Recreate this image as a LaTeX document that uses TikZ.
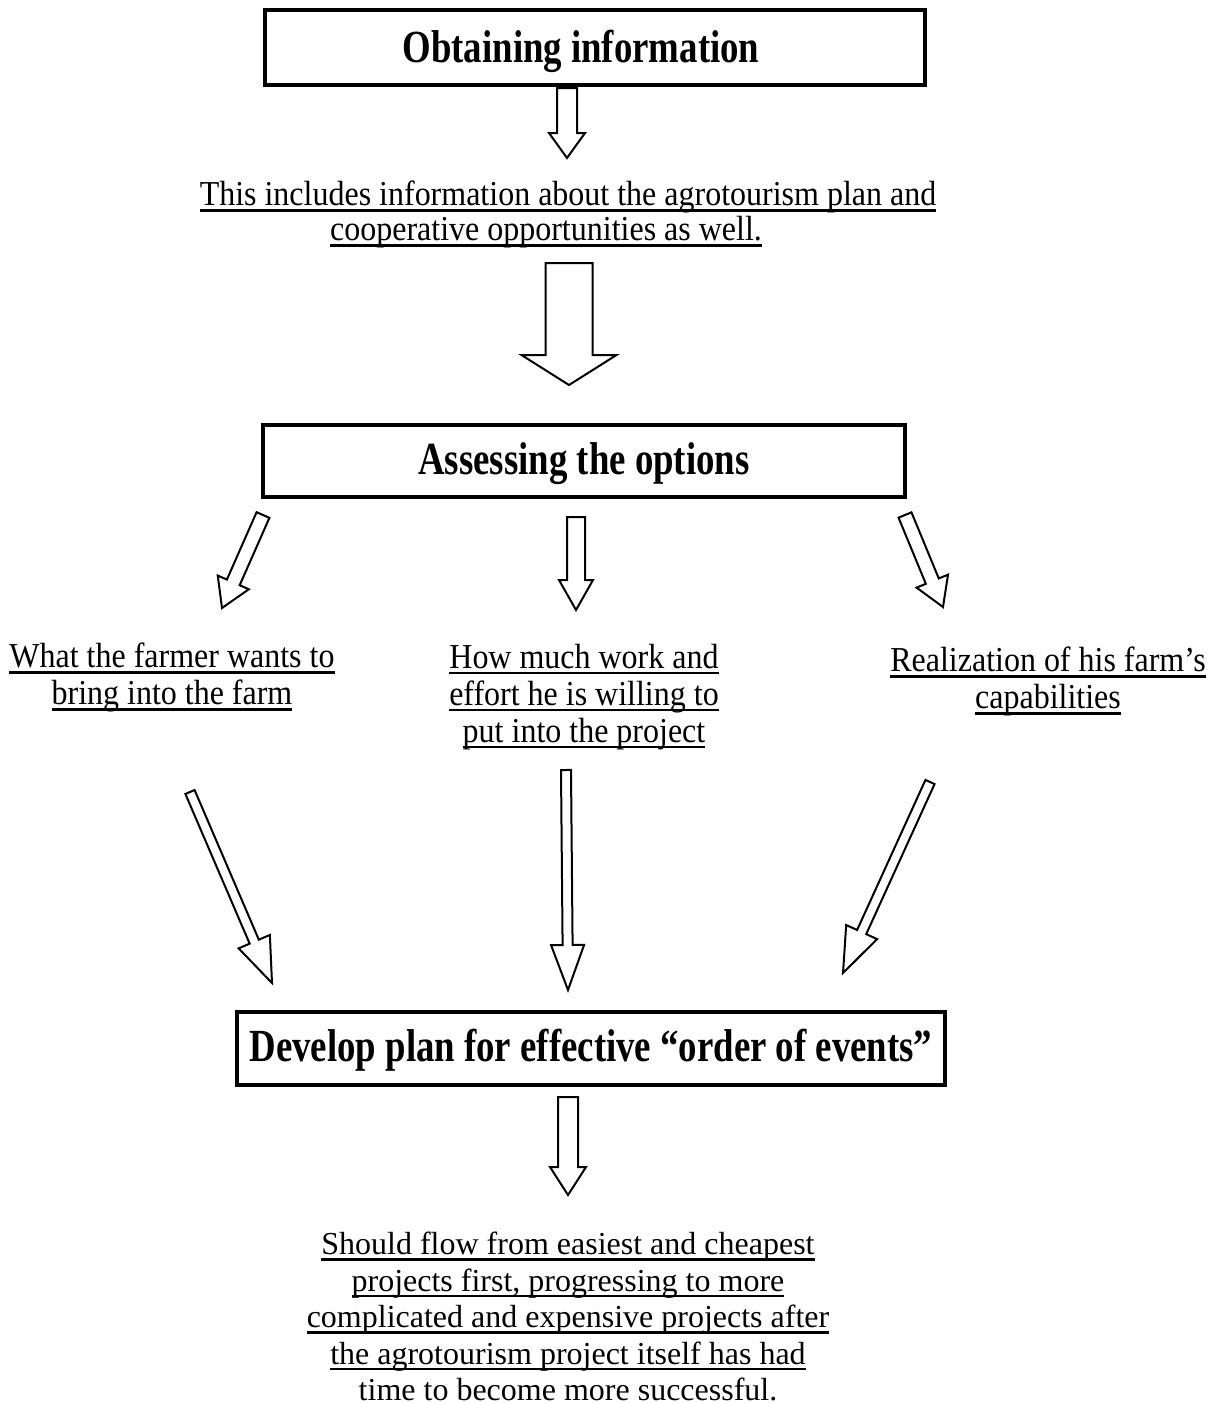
\documentclass[tikz,border=0pt]{standalone}
\usepackage{fontspec}
\setmainfont{Liberation Serif}
\newfontfamily\upperf[FakeStretch=0.914]{Liberation Serif}
\newfontfamily\titlef[FakeStretch=0.8]{Liberation Serif}
\newcommand\uln[1]{\setbox0\hbox{#1}\rlap{\vrule height -3.4pt depth 6pt width \wd0}\box0}
\usetikzlibrary{calc}
\tikzset{
  titlebox/.style={draw, line width=4.5pt, inner sep=0pt, fill=white,
    font=\titlef\bfseries\fontsize{46}{50}\selectfont},
  uppertext/.style={inner sep=0pt, align=center, anchor=north},
  blockarrow/.style={draw, line width=2pt, line join=miter, fill=white},
}
\newcommand\blockarr[5]{%
  \coordinate (#1-h) at ($(#2)!#5!(#1)$);
  \draw[blockarrow] ($(#1)!#3!90:(#2)$) -- ($(#1-h)!#3!90:(#2)$) -- ($(#1-h)!#4!90:(#2)$) -- (#2)
    -- ($(#1-h)!#4!-90:(#2)$) -- ($(#1-h)!#3!-90:(#2)$) -- ($(#1)!#3!-90:(#2)$) -- cycle;}
\begin{document}
\begin{tikzpicture}[x=1pt,y=-1pt]
\fill[white] (0,0) rectangle (1218,1403);
\useasboundingbox (0,0) rectangle (1218,1403);

% boxes
\node[titlebox, minimum width=660pt, minimum height=75pt] (b1) at (595,47.5) {\raisebox{-4pt}[32pt][10pt]{Obtaining information}\hspace*{28pt}};
\node[titlebox, minimum width=642pt, minimum height=72pt] (b2) at (584,461) {\raisebox{-2pt}[32pt][10pt]{Assessing the options}};
\node[titlebox, minimum width=708pt, minimum height=73pt] (b3) at (591,1048.5) {\raisebox{-2pt}[32pt][10pt]{Develop plan for effective “order of events”}};

% texts
\node[uppertext, font=\upperf\fontsize{35}{35}\selectfont] (t1) at (568,181)
  {\uln{This includes information about the agrotourism plan and}\\\uln{cooperative opportunities as well.}\hspace*{44pt}};
\node[uppertext, font=\upperf\fontsize{35}{37}\selectfont] (tl) at (172,643)
  {\uln{What the farmer wants to}\\\uln{bring into the farm}};
\node[uppertext, font=\upperf\fontsize{35}{37}\selectfont] (tm) at (584,644)
  {\uln{How much work and}\\\uln{effort he is willing to}\\\uln{put into the project}};
\node[uppertext, font=\upperf\fontsize{35}{37}\selectfont] (tr) at (1048,647)
  {\uln{Realization of his farm’s}\\\uln{capabilities}};
\node[uppertext, font=\fontsize{32}{36.5}\selectfont] (tb) at (568,1232)
  {\uln{Should flow from easiest and cheapest}\\\uln{projects first, progressing to more}\\\uln{complicated and expensive projects after}\\\uln{the agrotourism project itself has had}\\time to become more successful.};

% arrows
\coordinate (a1s) at (567,88);   \coordinate (a1t) at (567,158);
\coordinate (a2s) at (569,263);  \coordinate (a2t) at (569,385);
\coordinate (a3s) at (263,515);  \coordinate (a3t) at (222,608);
\coordinate (a4s) at (576,517);  \coordinate (a4t) at (576,610);
\coordinate (a5s) at (905,515);  \coordinate (a5t) at (943,607);
\coordinate (a6s) at (190,792);  \coordinate (a6t) at (272,983);
\coordinate (a7s) at (566,770);  \coordinate (a7t) at (568,990);
\coordinate (a8s) at (930,782);  \coordinate (a8t) at (843,973);
\coordinate (a9s) at (568,1097); \coordinate (a9t) at (568,1195);
\blockarr{a1s}{a1t}{10pt}{18pt}{25pt}
\blockarr{a2s}{a2t}{23.5pt}{47.5pt}{30pt}
\blockarr{a3s}{a3t}{7pt}{17pt}{28pt}
\blockarr{a4s}{a4t}{9pt}{17pt}{30pt}
\blockarr{a5s}{a5t}{7pt}{17pt}{28pt}
\blockarr{a6s}{a6t}{5pt}{17pt}{45pt}
\blockarr{a7s}{a7t}{5pt}{16.5pt}{45pt}
\blockarr{a8s}{a8t}{5pt}{17pt}{45pt}
\blockarr{a9s}{a9t}{10pt}{18pt}{28pt}
\end{tikzpicture}
\end{document}
